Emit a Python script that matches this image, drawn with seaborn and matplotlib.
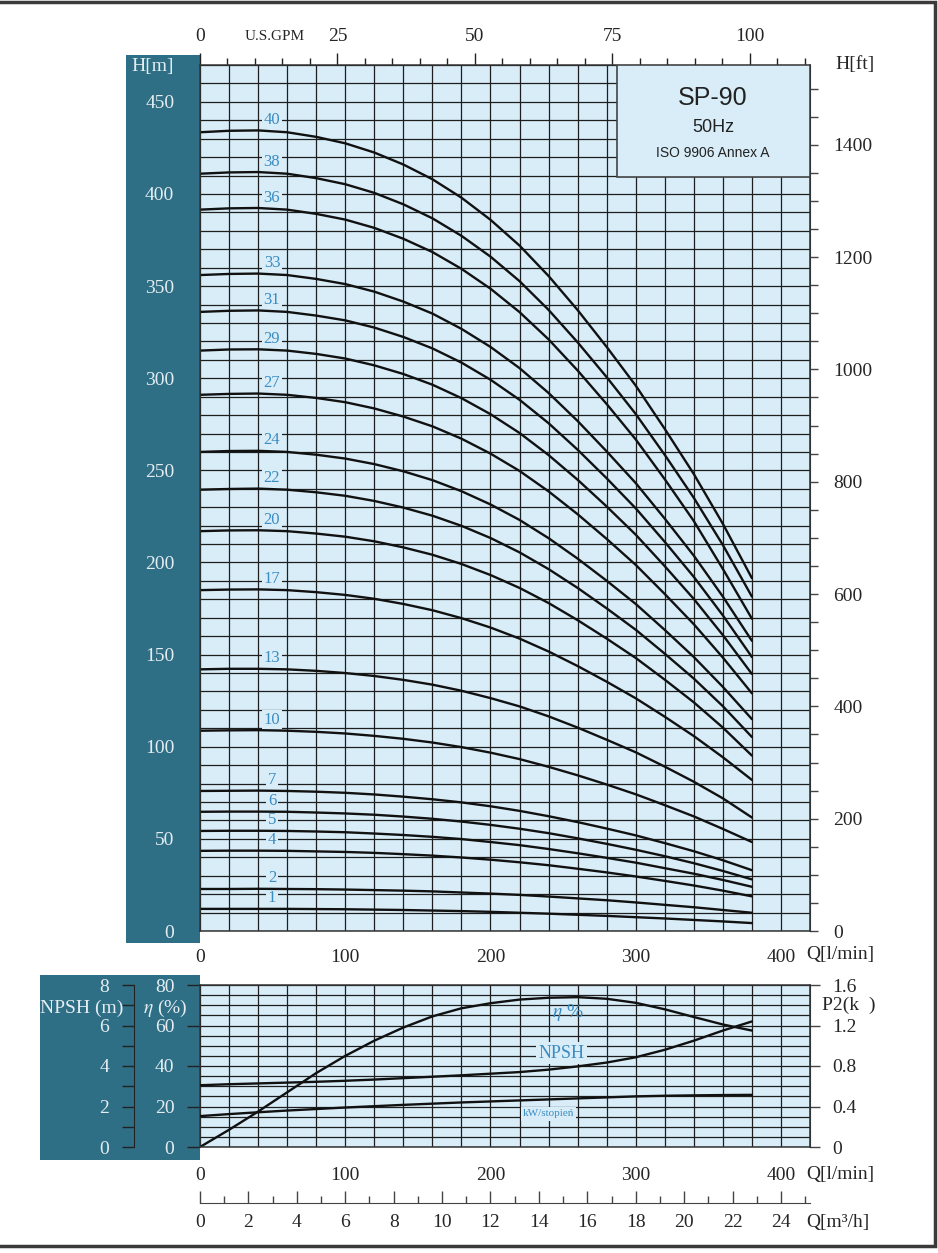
import numpy as np
import pandas as pd
import seaborn as sns
import matplotlib.pyplot as plt
from matplotlib.patches import Rectangle
from matplotlib.ticker import MultipleLocator

# flow points (l/min) shared by every curve
q_lpm = [0, 20, 40, 60, 80, 100, 120, 140, 160, 180, 200, 220, 240, 260, 280, 300, 320, 340, 360, 380]

# head curves H[m] per number of stages
h40 = [433.5, 434.3, 434.5, 433.5, 431.0, 427.5, 422.5, 416.0, 408.0, 398.0, 386.0, 372.0, 355.5, 337.0, 317.0, 296.0, 272.5, 248.0, 221.0, 191.5]
h38 = [411.0, 411.7, 411.9, 411.0, 408.6, 405.3, 400.6, 394.4, 386.8, 377.3, 366.0, 352.7, 337.1, 319.5, 300.6, 280.6, 258.4, 235.1, 209.5, 181.5]
h36 = [391.5, 392.2, 392.4, 391.5, 389.2, 386.1, 381.6, 375.7, 368.5, 359.4, 348.6, 335.9, 321.1, 304.2, 286.0, 266.8, 245.2, 222.5, 196.5, 169.5]
h33 = [356.0, 356.6, 356.8, 356.0, 353.9, 351.1, 347.0, 341.6, 335.1, 326.8, 317.0, 305.5, 292.0, 276.8, 260.3, 243.1, 223.8, 203.7, 181.5, 157.5]
h31 = [336.0, 336.6, 336.8, 336.0, 334.0, 331.4, 327.5, 322.4, 316.2, 308.5, 299.2, 288.3, 275.6, 261.2, 245.7, 229.4, 211.2, 192.2, 171.3, 148.7]
h29 = [315.0, 315.6, 315.7, 315.0, 313.2, 310.7, 307.0, 302.3, 296.5, 289.2, 280.5, 270.3, 258.3, 244.9, 230.4, 215.1, 198.0, 180.2, 160.6, 139.5]
h27 = [291.0, 291.5, 291.7, 291.0, 289.3, 287.0, 283.6, 279.2, 273.9, 267.2, 259.1, 249.7, 238.6, 226.2, 212.8, 198.7, 182.9, 166.5, 148.4, 129.0]
h24 = [260.0, 260.5, 260.6, 260.0, 258.5, 256.4, 253.4, 249.5, 244.7, 238.7, 231.5, 223.1, 213.2, 202.1, 190.1, 177.5, 163.4, 148.7, 132.5, 115.0]
h22 = [239.5, 239.9, 240.1, 239.5, 238.1, 236.2, 233.4, 229.8, 225.4, 219.9, 213.3, 205.5, 196.4, 186.2, 175.1, 163.5, 150.5, 137.0, 122.0, 105.3]
h20 = [217.0, 217.4, 217.5, 217.0, 215.7, 214.0, 211.5, 208.2, 204.2, 199.2, 193.2, 186.2, 178.0, 168.7, 158.7, 148.2, 136.4, 124.1, 110.4, 95.2]
h17 = [185.0, 185.3, 185.4, 185.0, 183.9, 182.4, 180.3, 177.5, 174.1, 169.8, 164.7, 158.7, 151.7, 143.8, 135.3, 126.3, 116.3, 105.8, 94.3, 82.0]
h13 = [142.0, 142.3, 142.3, 142.0, 141.2, 140.0, 138.4, 136.3, 133.7, 130.4, 126.4, 121.9, 116.5, 110.4, 103.8, 97.0, 89.2, 81.0, 72.0, 61.6]
h10 = [108.7, 108.9, 109.0, 108.7, 108.1, 107.2, 105.9, 104.3, 102.3, 99.8, 96.8, 93.3, 89.1, 84.5, 79.5, 74.2, 68.3, 62.2, 55.4, 48.3]
h7 = [76.0, 76.1, 76.2, 76.0, 75.6, 75.0, 74.1, 72.9, 71.5, 69.8, 67.7, 65.2, 62.3, 59.1, 55.6, 51.9, 47.7, 43.3, 38.4, 33.0]
h6 = [64.7, 64.8, 64.8, 64.7, 64.3, 63.8, 63.1, 62.1, 60.9, 59.4, 57.6, 55.5, 53.1, 50.3, 47.3, 44.1, 40.6, 36.8, 32.6, 28.0]
h5 = [54.3, 54.4, 54.4, 54.3, 54.0, 53.6, 52.9, 52.1, 51.1, 49.9, 48.3, 46.6, 44.5, 42.2, 39.7, 37.1, 34.1, 31.1, 27.7, 24.0]
h4 = [43.5, 43.6, 43.6, 43.5, 43.2, 42.9, 42.4, 41.7, 40.9, 39.9, 38.7, 37.3, 35.7, 33.8, 31.8, 29.6, 27.2, 24.7, 21.9, 18.8]
h2 = [22.8, 22.8, 22.9, 22.8, 22.7, 22.5, 22.2, 21.9, 21.5, 20.9, 20.3, 19.6, 18.7, 17.7, 16.7, 15.5, 14.2, 12.9, 11.4, 9.9]
h1 = [12.0, 12.0, 12.0, 12.0, 11.9, 11.8, 11.6, 11.4, 11.1, 10.8, 10.4, 9.9, 9.4, 8.8, 8.2, 7.5, 6.8, 6.0, 5.2, 4.3]

stages = [40, 38, 36, 33, 31, 29, 27, 24, 22, 20, 17, 13, 10, 7, 6, 5, 4, 2, 1]
head_curves = [h40, h38, h36, h33, h31, h29, h27, h24, h22, h20, h17, h13, h10, h7, h6, h5, h4, h2, h1]

# lower panel
eta = [0, 8.5, 17.5, 27, 36.5, 45, 52.5, 59, 64.5, 68.5, 71, 72.8, 73.7, 74, 73.2, 71.2, 68, 64.2, 60.5, 57.5]
npsh = [3.05, 3.1, 3.14, 3.18, 3.22, 3.27, 3.33, 3.4, 3.47, 3.54, 3.62, 3.7, 3.82, 3.98, 4.17, 4.43, 4.8, 5.25, 5.75, 6.2]
p2 = [0.305, 0.325, 0.343, 0.36, 0.375, 0.39, 0.403, 0.416, 0.428, 0.44, 0.45, 0.46, 0.47, 0.48, 0.49, 0.5, 0.506, 0.51, 0.513, 0.515]

# ticks
q_ticks = [0, 100, 200, 300, 400]
h_ticks = [0, 50, 100, 150, 200, 250, 300, 350, 400, 450]
ft_ticks = [0, 200, 400, 600, 800, 1000, 1200, 1400]
gpm_ticks = [0, 25, 50, 75, 100]
m3h_ticks = [0, 2, 4, 6, 8, 10, 12, 14, 16, 18, 20, 22, 24]
eta_ticks = [0, 20, 40, 60, 80]
npsh_ticks = [0, 2, 4, 6, 8]
p2_ticks = [0, 0.4, 0.8, 1.2, 1.6]
p2_labels = ['0', '0.4', '0.8', '1.2', '1.6']

BG = '#d8edf8'
TEAL = '#2f6f86'
BLUE = '#3a8cc2'
GRID = '#1e1e1e'
LIGHT = '#e4edf1'
INK = '#222222'

sns.set_style('white')
plt.rcParams['font.family'] = ['Liberation Serif', 'DejaVu Serif']
plt.rcParams['mathtext.fontset'] = 'stix'

W, H = 938, 1253
fig = plt.figure(figsize=(W / 100, H / 100), dpi=100)


def fx(px):
    return px / W


def fy(py):
    return 1 - py / H


# teal bands behind the left axes
fig.patches.append(Rectangle((fx(126), fy(943)), 74 / W, (943 - 55) / H, transform=fig.transFigure,
                             facecolor=TEAL, edgecolor='none', zorder=-1))
fig.patches.append(Rectangle((fx(40), fy(1160)), 160 / W, (1160 - 975) / H, transform=fig.transFigure,
                             facecolor=TEAL, edgecolor='none', zorder=-1))

ax = fig.add_axes([fx(200), fy(931), 610 / W, (931 - 65) / H])
axb = fig.add_axes([fx(200), fy(1147), 610 / W, (1147 - 985) / H])

# ---- main head chart ----
head = pd.DataFrame({'Q': np.tile(q_lpm, len(stages)),
                     'H': np.concatenate(head_curves),
                     'stages': np.repeat(stages, len(q_lpm))})
sns.lineplot(data=head, x='Q', y='H', units='stages', estimator=None, color='#111111',
             lw=1.7, ax=ax, legend=False)

# stage numbers: box hides the grid but stays under the curves
for n, h in zip(stages, head_curves):
    ax.annotate(str(n), xy=(q_lpm[2], h[2]), xytext=(10, 7.5), textcoords='offset points',
                ha='center', va='center', fontsize=12, color=BLUE, zorder=1.5,
                bbox=dict(boxstyle='square,pad=0.1', fc=BG, ec='none'))

ax.set_facecolor(BG)
ax.set_xlim(0, 420)
ax.set_ylim(0, 470)
ax.set_xlabel('')
ax.set_ylabel('')
ax.xaxis.set_minor_locator(MultipleLocator(20))
ax.yaxis.set_minor_locator(MultipleLocator(10))
ax.grid(which='both', color=GRID, lw=0.9)
ax.set_axisbelow(True)
ax.set_xticks(q_ticks, [str(t) for t in q_ticks])
ax.set_yticks(h_ticks + [470], [str(t) for t in h_ticks] + ['H[m]'])
ax.tick_params(which='minor', length=0)
ax.tick_params(axis='y', which='major', direction='out', length=9.5, width=1, color=INK,
               labelcolor=LIGHT, labelsize=14, pad=9)
ax.tick_params(axis='x', which='major', direction='out', length=9, width=1, color=INK,
               labelsize=14, pad=4)
for s in ax.spines.values():
    s.set_color('#333333')
    s.set_linewidth(1.1)

top = ax.secondary_xaxis('top', functions=(lambda q: q / 3.785, lambda g: g * 3.785))
top.set_xticks(gpm_ticks, [str(t) for t in gpm_ticks])
top.xaxis.set_minor_locator(MultipleLocator(5))
top.tick_params(which='major', length=8.5, width=1, color=INK, labelsize=14, pad=6)
top.tick_params(which='minor', length=5, width=1, color=INK)
top.spines['top'].set_visible(False)

ft = ax.secondary_yaxis('right', functions=(lambda m: m / 0.3048, lambda f: f * 0.3048))
ft.set_yticks(ft_ticks, [str(t) for t in ft_ticks])
ft.yaxis.set_minor_locator(MultipleLocator(50))
ft.tick_params(which='both', length=6, width=1, color='#444444', labelsize=14, pad=11)
ft.spines['right'].set_color('#333333')

# type plate box
ax.add_patch(Rectangle((0.6836, 0.8707), 0.3164, 0.1293, transform=ax.transAxes,
                       facecolor=BG, edgecolor='#444444', lw=1.2, zorder=3))
ax.text(0.841, 0.962, 'SP-90', transform=ax.transAxes, ha='center', va='center',
        fontsize=18, family=['Liberation Sans'], color='#222222', zorder=4)
ax.text(0.841, 0.928, '50Hz', transform=ax.transAxes, ha='center', va='center',
        fontsize=13, family=['Liberation Sans'], color='#222222', zorder=4)
ax.text(0.841, 0.898, 'ISO 9906 Annex A', transform=ax.transAxes, ha='center', va='center',
        fontsize=10, family=['Liberation Sans'], color='#222222', zorder=4)

# ---- lower chart: efficiency, NPSH, power ----
axb.set_facecolor(BG)
sns.lineplot(x=q_lpm, y=eta, ax=axb, color='#111111', lw=1.7)
axb.set_xlim(0, 420)
axb.set_ylim(0, 80)
axb.xaxis.set_minor_locator(MultipleLocator(20))
axb.yaxis.set_minor_locator(MultipleLocator(5))
axb.grid(which='both', color=GRID, lw=0.9)
axb.set_axisbelow(True)
axb.set_xticks(q_ticks + [420], [str(t) for t in q_ticks] + [''])
axb.set_yticks(eta_ticks, [str(t) for t in eta_ticks])
axb.tick_params(which='minor', length=0)
axb.tick_params(axis='y', which='major', direction='out', length=9.5, width=1, color=INK,
                labelcolor=LIGHT, labelsize=14, pad=9)
axb.tick_params(axis='x', which='major', direction='out', length=8.5, width=1, color=INK,
                labelsize=14, pad=6)
for s in axb.spines.values():
    s.set_color('#333333')
    s.set_linewidth(1.1)

axn = axb.twinx()
sns.lineplot(x=q_lpm, y=npsh, ax=axn, color='#111111', lw=1.7)
axn.set_ylim(0, 8)
axn.spines['left'].set_visible(True)
axn.spines['left'].set_position(('outward', 47.5))
axn.spines['left'].set_color(INK)
for side in ['right', 'top', 'bottom']:
    axn.spines[side].set_visible(False)
axn.yaxis.set_ticks_position('left')
axn.yaxis.set_label_position('left')
axn.set_yticks(npsh_ticks, [str(t) for t in npsh_ticks])
axn.yaxis.set_minor_locator(MultipleLocator(1))
axn.tick_params(axis='y', which='both', direction='out', length=9, width=1, color=INK,
                labelcolor=LIGHT, labelsize=14, pad=9)
axn.set_ylabel('')

axp = axb.twinx()
sns.lineplot(x=q_lpm, y=p2, ax=axp, color='#111111', lw=1.7)
axp.set_ylim(0, 1.6)
axp.set_yticks(p2_ticks, p2_labels)
for side in ['left', 'top', 'bottom']:
    axp.spines[side].set_visible(False)
axp.spines['right'].set_color('#333333')
axp.tick_params(axis='y', direction='out', length=7, width=1, color='#444444',
                labelsize=14, pad=9)
axp.set_ylabel('')

m3h = axb.secondary_xaxis(-0.346, functions=(lambda q: q * 0.06, lambda m: m / 0.06))
m3h.set_xticks(m3h_ticks, [str(t) for t in m3h_ticks])
m3h.xaxis.set_minor_locator(MultipleLocator(1))
m3h.tick_params(which='major', direction='in', length=9, width=1, color='#444444',
                labelsize=14, pad=8)
m3h.tick_params(which='minor', direction='in', length=5, width=1, color='#444444')
m3h.spines['bottom'].set_color('#444444')

axb.text(253, 66.2, r'$\eta$ %', ha='center', va='center', fontsize=14, color=BLUE, zorder=4)
axb.text(249, 46.4, 'NPSH', ha='center', va='center', fontsize=13, color=BLUE, zorder=4,
         bbox=dict(boxstyle='square,pad=0.15', fc=BG, ec='none'))
axb.text(240, 16.3, 'kW/stopień', ha='center', va='center', fontsize=8, color=BLUE, zorder=4,
         bbox=dict(boxstyle='square,pad=0.2', fc=BG, ec='none'))

# axis captions
fig.text(fx(275), fy(37), 'U.S.GPM', ha='center', va='center', fontsize=11)
fig.text(fx(835), fy(65), 'H[ft]', ha='left', va='center', fontsize=14)
fig.text(fx(806), fy(955), 'Q[l/min]', ha='left', va='center', fontsize=14)
fig.text(fx(806), fy(1175), 'Q[l/min]', ha='left', va='center', fontsize=14)
fig.text(fx(806), fy(1222), 'Q[m³/h]', ha='left', va='center', fontsize=14)
fig.text(fx(82), fy(1008), 'NPSH (m)', ha='center', va='center', fontsize=14, color=LIGHT)
fig.text(fx(165), fy(1008), r'$\eta$ (%)', ha='center', va='center', fontsize=14, color=LIGHT)
fig.text(fx(822), fy(1005), 'P2(k  )', ha='left', va='center', fontsize=14)

# outer frame
fig.patches.append(Rectangle((-0.01, fy(1246)), fx(935) + 0.01, (1246 - 2) / H, transform=fig.transFigure,
                             fill=False, edgecolor='#3a3a3a', lw=2.5, zorder=10))

fig.savefig('out.png', dpi=100)
